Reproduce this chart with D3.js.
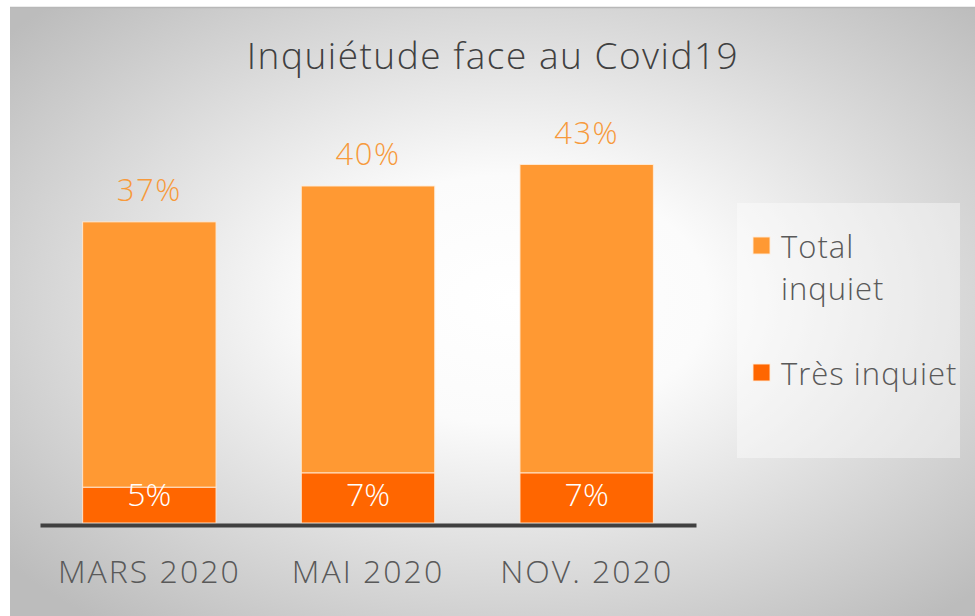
<!DOCTYPE html>
<html>
<head>
<meta charset="utf-8">
<script src="https://cdn.jsdelivr.net/npm/d3@7"></script>
<style>
  body { margin: 0; background: #fff; }
  svg text { font-family: "Open Sans", "DejaVu Sans", sans-serif; font-weight: 300; }
</style>
</head>
<body>
<div id="chart"></div>
<script>
// data
const periods = ["MARS 2020", "MAI 2020", "NOV. 2020"];
const tresInquiet = [5, 7, 7];
const totalInquiet = [37, 40, 43];
const seriesNames = ["Total inquiet", "Très inquiet"];
const seriesColors = ["#FF9933", "#FF6600"];

const W = 975, H = 616;
const svg = d3.select("#chart").append("svg")
    .attr("width", W)
    .attr("height", H);

// background with radial gradient
const defs = svg.append("defs");
const grad = defs.append("radialGradient")
    .attr("id", "bg")
    .attr("cx", "52%").attr("cy", "48%").attr("r", "68%");
grad.append("stop").attr("offset", "0%").attr("stop-color", "#ffffff");
grad.append("stop").attr("offset", "30%").attr("stop-color", "#fbfbfb");
grad.append("stop").attr("offset", "100%").attr("stop-color", "#bcbcbc");

svg.append("rect")
    .attr("x", 10).attr("y", 7)
    .attr("width", W - 10).attr("height", H - 7)
    .attr("fill", "url(#bg)");
svg.append("line")
    .attr("x1", 10).attr("x2", W).attr("y1", 7.5).attr("y2", 7.5)
    .attr("stroke", "#b8b8b8").attr("stroke-width", 1.5);

// title
svg.append("text")
    .attr("x", 493).attr("y", 69)
    .attr("text-anchor", "middle")
    .attr("fill", "#404040")
    .style("font-size", "37px")
    .style("letter-spacing", "1.5px")
    .text("Inquiétude face au Covid19");

// scales
const x = d3.scaleBand()
    .domain(periods)
    .range([40, 696])
    .paddingInner(0.39)
    .paddingOuter(0.195);

const y = d3.scaleLinear()
    .domain([0, 60])
    .range([523, 523 - 60 * 7.17]);

const rows = periods.map((p, i) => ({ period: p, tres: tresInquiet[i], total: totalInquiet[i] }));
const stack = d3.stack().keys(["tres", "total"])(rows);

const g = svg.append("g");
g.selectAll("g.layer")
    .data(stack)
    .enter()
    .append("g")
    .attr("class", "layer")
    .attr("fill", (d, i) => seriesColors[1 - i])
    .selectAll("rect")
    .data(d => d)
    .enter()
    .append("rect")
    .attr("x", d => x(d.data.period))
    .attr("y", d => y(d[1]))
    .attr("width", x.bandwidth())
    .attr("height", d => y(d[0]) - y(d[1]))
    .attr("stroke", "rgba(255,235,215,0.9)")
    .attr("stroke-width", 1);

// labels on top (total)
g.selectAll("text.tot")
    .data(stack[1])
    .enter()
    .append("text")
    .attr("class", "tot")
    .attr("x", d => x(d.data.period) + x.bandwidth() / 2)
    .attr("y", d => y(d[1]) - 21)
    .attr("text-anchor", "middle")
    .attr("fill", "#F79A3C")
    .style("font-size", "31px")
    .style("letter-spacing", "1.5px")
    .text(d => d.data.total + "%");

// labels inside (très inquiet)
g.selectAll("text.tres")
    .data(stack[0])
    .enter()
    .append("text")
    .attr("class", "tres")
    .attr("x", d => x(d.data.period) + x.bandwidth() / 2)
    .attr("y", y(0) - 17)
    .attr("text-anchor", "middle")
    .attr("fill", "#ffffff")
    .style("font-size", "32px")
    .text(d => d.data.tres + "%");

// x axis
const xAxis = svg.append("g")
    .attr("transform", "translate(0," + (y(0) + 2) + ")")
    .call(d3.axisBottom(x).tickSize(0).tickPadding(0));
xAxis.select(".domain")
    .attr("stroke", "#404040")
    .attr("stroke-width", 4);
xAxis.selectAll(".tick text")
    .attr("y", 35)
    .attr("fill", "#595959")
    .style("font-size", "32px")
    .style("font-family", "\"Open Sans\", sans-serif")
    .style("font-weight", "300")
    .style("letter-spacing", "2px");

// legend
const lg = svg.append("g");
lg.append("rect")
    .attr("x", 737).attr("y", 203)
    .attr("width", 223).attr("height", 255)
    .attr("fill", "rgba(255,255,255,0.4)");

const legendItems = [
    { name: seriesNames[0], color: seriesColors[0], lines: ["Total", "inquiet"], y: 258 },
    { name: seriesNames[1], color: seriesColors[1], lines: ["Très inquiet"], y: 385 }
];
const li = lg.selectAll("g.item")
    .data(legendItems)
    .enter()
    .append("g")
    .attr("class", "item");
li.append("rect")
    .attr("x", 753)
    .attr("y", d => d.y - 21)
    .attr("width", 17).attr("height", 17)
    .attr("fill", d => d.color)
    .attr("stroke", "rgba(255,235,215,0.9)")
    .attr("stroke-width", 1);
li.append("text")
    .attr("x", 781)
    .attr("y", d => d.y)
    .attr("fill", "#595959")
    .style("font-size", "31px")
    .style("letter-spacing", "1px")
    .selectAll("tspan")
    .data(d => d.lines)
    .enter()
    .append("tspan")
    .attr("x", 781)
    .attr("dy", (d, i) => i === 0 ? 0 : 42)
    .text(d => d);
</script>
</body>
</html>
